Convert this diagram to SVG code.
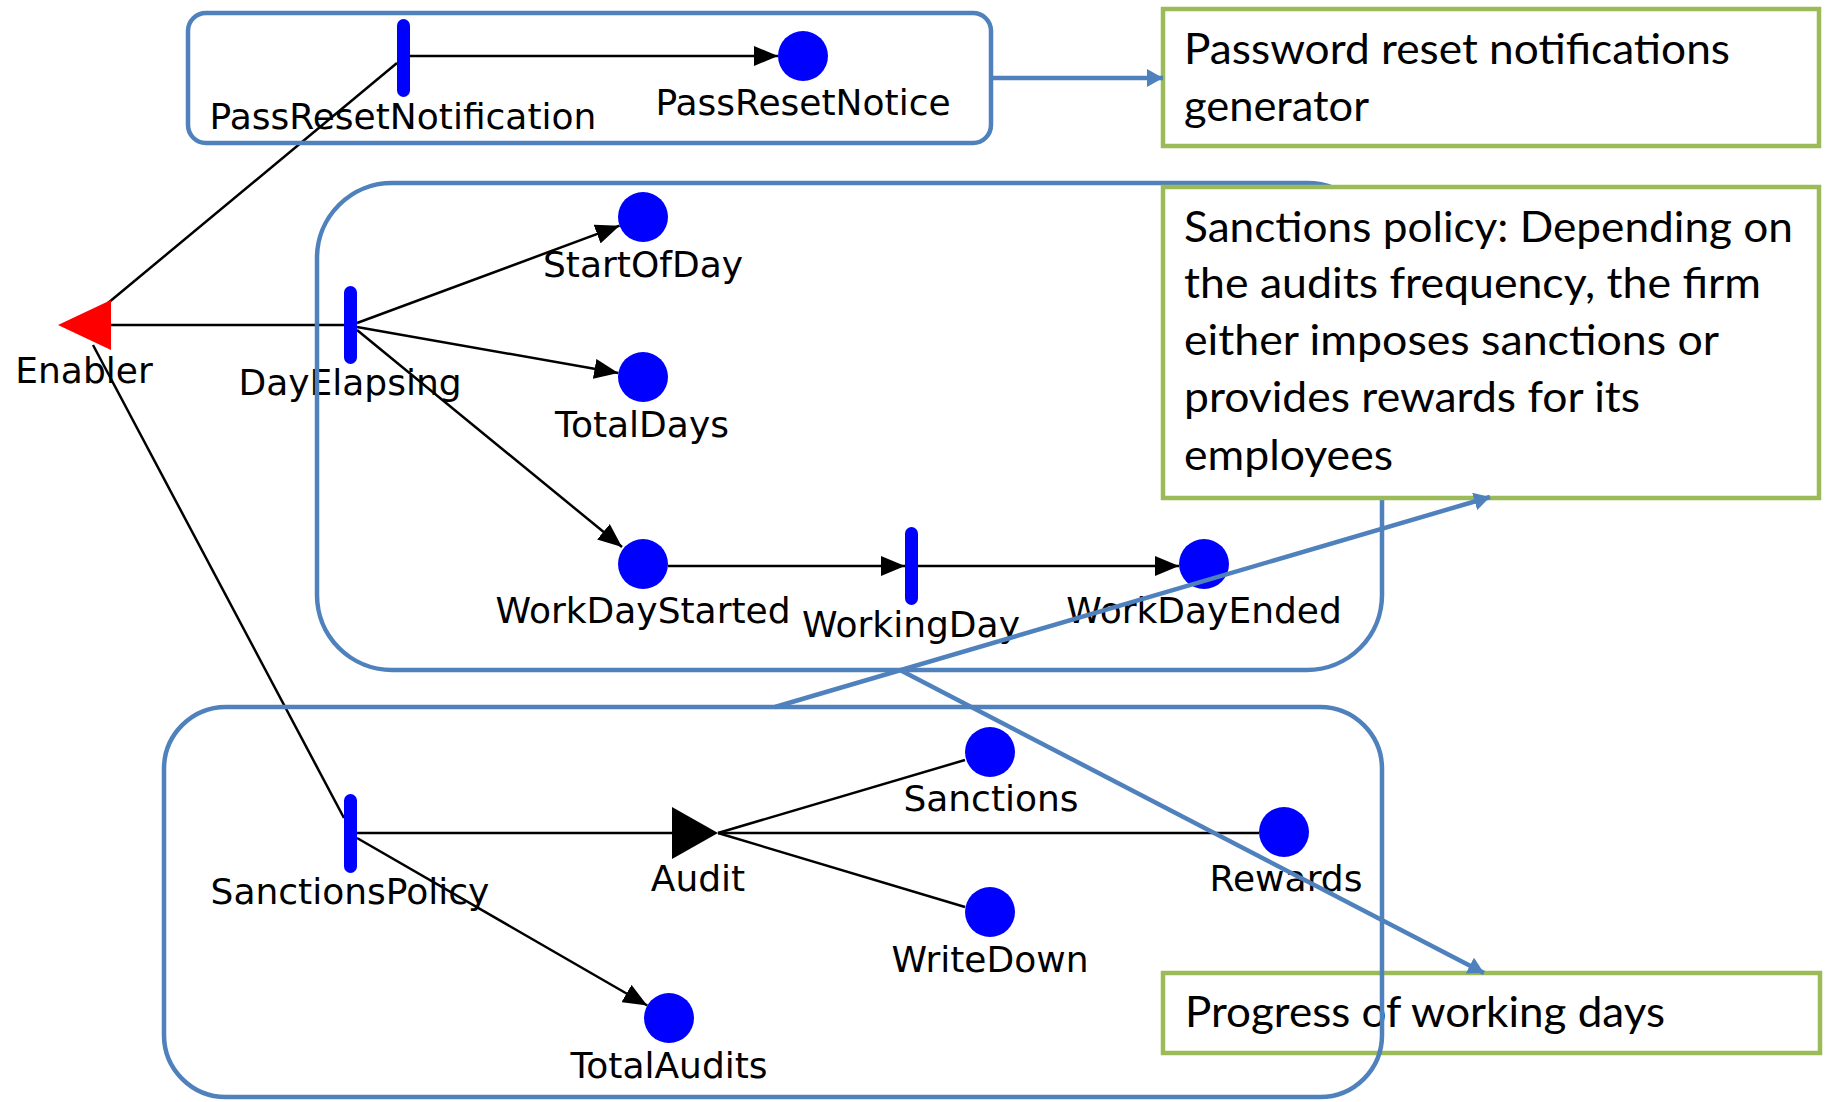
<svg xmlns="http://www.w3.org/2000/svg" width="1826" height="1102" viewBox="0 0 1826 1102">
  <style>
    .arc { stroke: #000; stroke-width: 2.5; fill: none; }
    .place { fill: #0000FF; }
    .trans { fill: #0000FF; }
    .lbl { font-family: "DejaVu Sans", "Liberation Sans", sans-serif; font-size: 36px; fill: #000; text-anchor: middle; }
    .region { fill: none; stroke: #4F81BD; stroke-width: 4.5; }
    .note { stroke: #9BBB59; stroke-width: 4.5; }
    .ntxt { font-family: Lato, "Liberation Sans", sans-serif; font-size: 42px; fill: #000; }
    .link { stroke: #4F81BD; stroke-width: 4.5; fill: none; }
  </style>
  <defs>
    <marker id="arrow" markerUnits="userSpaceOnUse" markerWidth="26" markerHeight="20" refX="24" refY="10" orient="auto">
      <path d="M0,0 L24,10 L0,20 z" fill="#000"/>
    </marker>
    <marker id="blueArrow" markerUnits="userSpaceOnUse" markerWidth="18" markerHeight="18" refX="16" refY="9" orient="auto">
      <path d="M0,0 L16,9 L0,18 z" fill="#4F81BD"/>
    </marker>
  </defs>
  <rect width="1826" height="1102" fill="#fff"/>

  <!-- Petri net arcs -->
  <g id="arcs">
    <line class="arc" x1="108" y1="303" x2="397" y2="63"/>
    <line class="arc" x1="111" y1="325" x2="344" y2="325"/>
    <line class="arc" x1="93" y1="345" x2="344" y2="818"/>
    <line class="arc" x1="409" y1="56" x2="778" y2="56" marker-end="url(#arrow)"/>
    <line class="arc" x1="357" y1="323" x2="619.6" y2="225.7" marker-end="url(#arrow)"/>
    <line class="arc" x1="357" y1="327" x2="618.3" y2="373" marker-end="url(#arrow)"/>
    <line class="arc" x1="357" y1="330" x2="622" y2="547" marker-end="url(#arrow)"/>
    <line class="arc" x1="668" y1="566" x2="905" y2="566" marker-end="url(#arrow)"/>
    <line class="arc" x1="917" y1="566" x2="1179" y2="566" marker-end="url(#arrow)"/>
    <line class="arc" x1="357" y1="833" x2="672" y2="833"/>
    <line class="arc" x1="718" y1="833" x2="1259" y2="833"/>
    <line class="arc" x1="718" y1="833" x2="965" y2="760"/>
    <line class="arc" x1="718" y1="833" x2="965" y2="907"/>
    <line class="arc" x1="357" y1="838" x2="647.3" y2="1005.5" marker-end="url(#arrow)"/>
  </g>

  <!-- Petri net nodes -->
  <g id="Enabler">
    <polygon points="58,325 111,300 111,350" fill="#FF0000"/>
    <text class="lbl" x="84" y="383">Enabler</text>
  </g>
  <g id="PassResetNotification">
    <rect class="trans" x="397" y="19" width="13" height="78" rx="6.5"/>
    <text class="lbl" x="403" y="129">PassResetNotification</text>
  </g>
  <g id="PassResetNotice">
    <circle class="place" cx="803" cy="56" r="25"/>
    <text class="lbl" x="803" y="115">PassResetNotice</text>
  </g>
  <g id="DayElapsing">
    <rect class="trans" x="344" y="286" width="13" height="78" rx="6.5"/>
    <text class="lbl" x="350" y="395">DayElapsing</text>
  </g>
  <g id="StartOfDay">
    <circle class="place" cx="643" cy="217" r="25"/>
    <text class="lbl" x="643" y="277">StartOfDay</text>
  </g>
  <g id="TotalDays">
    <circle class="place" cx="643" cy="377" r="25"/>
    <text class="lbl" x="642" y="437">TotalDays</text>
  </g>
  <g id="WorkDayStarted">
    <circle class="place" cx="643" cy="564" r="25"/>
    <text class="lbl" x="643" y="623">WorkDayStarted</text>
  </g>
  <g id="WorkingDay">
    <rect class="trans" x="905" y="527" width="13" height="78" rx="6.5"/>
    <text class="lbl" x="911" y="637">WorkingDay</text>
  </g>
  <g id="WorkDayEnded">
    <circle class="place" cx="1204" cy="564" r="25"/>
    <text class="lbl" x="1204" y="623">WorkDayEnded</text>
  </g>
  <g id="SanctionsPolicy">
    <rect class="trans" x="344" y="794" width="13" height="79" rx="6.5"/>
    <text class="lbl" x="350" y="904">SanctionsPolicy</text>
  </g>
  <g id="Audit">
    <polygon points="672,807 672,859 718,833" fill="#000"/>
    <text class="lbl" x="698" y="891">Audit</text>
  </g>
  <g id="Sanctions">
    <circle class="place" cx="990" cy="752" r="25"/>
    <text class="lbl" x="991" y="811">Sanctions</text>
  </g>
  <g id="Rewards">
    <circle class="place" cx="1284" cy="832" r="25"/>
    <text class="lbl" x="1286" y="891">Rewards</text>
  </g>
  <g id="WriteDown">
    <circle class="place" cx="990" cy="912" r="25"/>
    <text class="lbl" x="990" y="972">WriteDown</text>
  </g>
  <g id="TotalAudits">
    <circle class="place" cx="669" cy="1018" r="25"/>
    <text class="lbl" x="669" y="1078">TotalAudits</text>
  </g>

  <!-- Grouping regions -->
  <g id="region-days">
    <rect class="region" x="317" y="183" width="1065" height="487" rx="75"/>
  </g>
  <g id="note-sanctions">
    <rect class="note" x="1163" y="187" width="656" height="311" fill="#fff"/>
    <text class="ntxt" x="1184" y="242" textLength="609" lengthAdjust="spacingAndGlyphs">Sanctions policy: Depending on</text>
    <text class="ntxt" x="1184" y="298" textLength="577" lengthAdjust="spacingAndGlyphs">the audits frequency, the firm</text>
    <text class="ntxt" x="1184" y="355" textLength="535" lengthAdjust="spacingAndGlyphs">either imposes sanctions or</text>
    <text class="ntxt" x="1184" y="412" textLength="456" lengthAdjust="spacingAndGlyphs">provides rewards for its</text>
    <text class="ntxt" x="1184" y="470" textLength="209" lengthAdjust="spacingAndGlyphs">employees</text>
  </g>
  <g id="note-progress">
    <rect class="note" x="1163" y="973" width="657" height="80" fill="none"/>
    <text class="ntxt" x="1185" y="1027" textLength="480" lengthAdjust="spacingAndGlyphs">Progress of working days</text>
  </g>
  <g id="region-audits">
    <rect class="region" x="164" y="707" width="1218" height="390" rx="62"/>
  </g>
  <g id="region-password">
    <rect class="region" x="188" y="13" width="803" height="130" rx="18"/>
  </g>
  <g id="note-password">
    <rect class="note" x="1163" y="9" width="656" height="137" fill="#fff"/>
    <text class="ntxt" x="1184" y="64" textLength="546" lengthAdjust="spacingAndGlyphs">Password reset notifications</text>
    <text class="ntxt" x="1184" y="121" textLength="185" lengthAdjust="spacingAndGlyphs">generator</text>
  </g>

  <!-- Region-to-note connectors -->
  <g id="note-links">
    <line class="link" x1="991" y1="78" x2="1163" y2="78" marker-end="url(#blueArrow)"/>
    <line class="link" x1="775" y1="707" x2="1490" y2="497" marker-end="url(#blueArrow)"/>
    <line class="link" x1="900" y1="670" x2="1484" y2="973" marker-end="url(#blueArrow)"/>
  </g>
</svg>
